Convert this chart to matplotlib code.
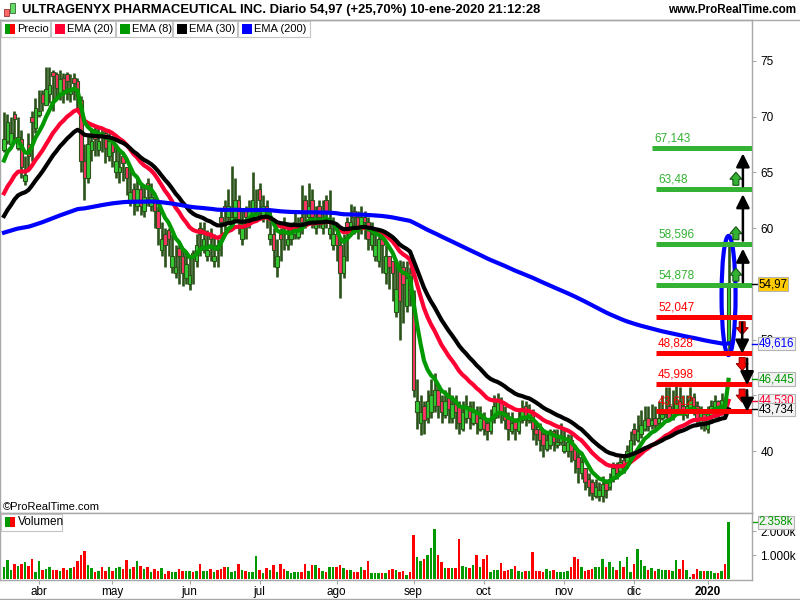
import numpy as np
import pandas as pd
import matplotlib
matplotlib.use("Agg")
import matplotlib.pyplot as plt
from matplotlib.patches import Rectangle, Ellipse, Polygon

plt.rcParams['font.family'] = ['Liberation Sans', 'DejaVu Sans']

# trading days shown (Mar 18 2019 .. Jan 10 2020)
holidays = ['2019-04-19', '2019-05-27', '2019-07-04', '2019-09-02',
            '2019-11-28', '2019-12-25', '2020-01-01']
dates = pd.bdate_range('2019-03-18', '2020-01-10')
dates = dates[~dates.isin(pd.to_datetime(holidays))]

opens = [67.0, 67.8, 67.5, 70.2, 67.2, 68.0, 64.2, 67.5, 70.0, 69.0,
         70.1, 72.0, 71.0, 72.0, 74.0, 73.8, 72.0, 73.5, 73.8, 72.0,
         73.5, 73.2, 71.5, 66.0, 64.5, 67.0, 68.5, 67.0, 68.5, 68.5,
         66.5, 67.8, 65.0, 65.0, 66.5, 65.5, 62.5, 63.5, 62.0, 63.5,
         61.5, 64.0, 62.0, 62.8, 61.5, 58.0, 59.5, 59.8, 56.5, 56.0,
         58.2, 57.5, 55.5, 55.0, 57.8, 57.0, 60.0, 58.0, 57.5, 59.5,
         57.0, 58.5, 61.0, 62.0, 61.0, 60.5, 61.0, 62.5, 59.0, 61.5,
         60.5, 61.0, 61.0, 63.5, 61.0, 62.0, 59.0, 59.5, 56.5, 59.5,
         60.5, 58.5, 59.0, 59.5, 59.2, 61.0, 62.5, 61.0, 62.5, 60.0,
         62.0, 60.0, 62.5, 59.5, 58.5, 59.5, 58.5, 56.0, 60.5, 60.0,
         61.5, 61.0, 60.0, 61.0, 60.5, 58.5, 57.5, 57.0, 59.0, 56.0,
         57.5, 57.0, 52.5, 56.5, 56.5, 53.0, 56.0, 54.0, 43.5, 42.5,
         44.0, 43.0, 43.5, 44.0, 45.5, 44.5, 43.2, 45.0, 43.0, 44.5,
         44.0, 42.0, 43.0, 44.0, 42.5, 43.5, 42.0, 43.0, 42.5, 41.8,
         43.0, 43.5, 44.5, 43.5, 43.0, 41.8, 42.8, 41.8, 42.8, 44.0,
         42.8, 43.5, 42.0, 42.0, 41.5, 40.2, 40.5, 41.8, 40.5, 40.8,
         40.0, 40.0, 41.0, 40.2, 39.5, 38.0, 38.5, 37.5, 37.2, 36.0,
         36.0, 36.0, 37.2, 36.8, 37.5, 38.8, 38.2, 39.2, 38.8, 39.8,
         42.0, 41.0, 41.5, 42.0, 43.0, 42.3, 43.0, 42.5, 43.0, 43.3,
         44.0, 43.0, 43.5, 44.5, 44.0, 43.2, 43.8, 44.8, 44.0, 42.5,
         43.5, 42.0, 43.2, 43.5, 44.5, 44.0, 44.5, 49.8]
highs = [70.4, 70.2, 70.0, 70.5, 70.0, 68.8, 66.5, 68.5, 70.5, 71.7,
         72.4, 72.4, 74.4, 74.4, 74.2, 74.0, 74.2, 73.9, 74.0, 73.8,
         73.9, 73.5, 71.8, 67.5, 68.5, 69.0, 69.2, 69.0, 69.0, 68.8,
         68.5, 68.0, 67.5, 67.0, 66.8, 65.5, 65.5, 64.0, 64.5, 64.0,
         63.8, 64.5, 64.0, 63.0, 62.0, 60.5, 60.0, 60.0, 59.5, 58.5,
         58.5, 58.0, 57.8, 57.5, 58.0, 59.5, 60.5, 60.5, 59.8, 60.0,
         59.5, 59.0, 61.5, 62.5, 63.5, 65.6, 64.5, 63.0, 61.5, 62.0,
         62.5, 65.0, 63.5, 64.0, 63.0, 62.5, 61.5, 60.0, 59.0, 60.0,
         61.0, 60.5, 60.5, 61.5, 61.0, 63.9, 63.0, 64.0, 63.5, 62.0,
         62.5, 62.5, 63.0, 63.4, 61.0, 60.0, 59.0, 59.5, 61.0, 62.2,
         62.0, 61.5, 62.0, 61.5, 61.0, 60.5, 60.0, 59.5, 59.5, 58.5,
         57.5, 57.0, 57.0, 57.1, 57.0, 57.0, 56.5, 54.4, 46.5, 45.0,
         44.5, 45.5, 46.5, 47.0, 46.0, 45.0, 45.5, 45.7, 45.0, 45.0,
         44.5, 44.5, 45.0, 44.5, 44.5, 44.0, 44.0, 43.5, 43.0, 43.8,
         45.0, 45.2, 44.8, 44.0, 43.5, 43.5, 43.0, 43.8, 44.6, 44.5,
         44.2, 43.8, 42.5, 42.5, 41.8, 41.8, 42.0, 42.0, 42.0, 42.5,
         42.0, 41.5, 41.5, 40.5, 40.0, 39.8, 38.5, 38.0, 37.5, 37.5,
         37.2, 37.8, 37.5, 38.0, 39.0, 39.0, 39.5, 39.5, 40.5, 41.8,
         42.5, 43.2, 43.7, 44.0, 44.0, 44.2, 44.0, 44.5, 45.0, 45.7,
         45.7, 45.5, 45.9, 45.7, 45.0, 45.0, 45.7, 45.2, 44.5, 44.0,
         43.8, 44.0, 44.6, 45.0, 44.6, 45.2, 44.8, 58.6]
lows = [66.8, 67.5, 67.2, 67.8, 67.0, 64.5, 63.9, 65.2, 66.0, 68.5,
        70.0, 70.5, 71.0, 71.2, 70.5, 71.5, 71.5, 71.2, 71.5, 71.3,
        71.5, 70.5, 65.0, 62.5, 64.0, 66.0, 66.5, 66.5, 66.8, 65.8,
        66.0, 65.5, 64.5, 64.0, 64.2, 63.0, 62.0, 61.2, 61.5, 61.2,
        61.0, 62.0, 61.5, 60.0, 58.5, 57.5, 56.5, 57.5, 56.0, 55.5,
        55.0, 54.8, 55.0, 54.4, 55.0, 56.5, 57.5, 57.8, 57.0, 57.0,
        56.5, 56.5, 57.5, 59.5, 60.5, 60.0, 60.5, 59.5, 58.5, 59.0,
        60.0, 60.5, 60.5, 61.0, 60.5, 60.0, 58.5, 56.5, 55.6, 57.0,
        58.0, 58.0, 58.5, 59.0, 59.0, 59.5, 60.0, 60.5, 60.0, 59.5,
        60.0, 59.5, 60.0, 59.0, 58.0, 57.0, 53.7, 55.5, 57.0, 59.5,
        59.5, 59.0, 59.5, 59.0, 58.0, 58.0, 57.0, 56.5, 56.0, 55.0,
        54.5, 53.5, 52.0, 50.0, 51.5, 52.5, 53.0, 44.8, 42.0, 41.4,
        41.5, 42.5, 43.0, 43.5, 43.0, 42.5, 43.0, 42.5, 42.5, 42.0,
        41.5, 41.8, 42.5, 42.0, 42.3, 41.5, 41.8, 41.4, 41.0, 41.5,
        42.5, 43.0, 42.5, 42.0, 41.0, 41.5, 41.0, 41.5, 42.5, 42.2,
        42.5, 41.0, 40.5, 40.0, 39.5, 40.0, 40.2, 40.0, 40.3, 40.5,
        39.8, 39.5, 39.0, 38.0, 37.1, 37.5, 36.5, 36.0, 35.6, 35.8,
        35.5, 35.4, 35.8, 36.5, 37.2, 37.5, 38.0, 38.0, 38.5, 39.5,
        40.5, 40.8, 41.2, 41.8, 41.8, 42.0, 42.0, 42.2, 42.8, 43.0,
        42.8, 42.8, 43.3, 43.2, 42.8, 43.0, 43.5, 43.2, 42.2, 42.0,
        41.8, 41.6, 42.5, 43.0, 42.8, 43.2, 43.2, 48.9]
closes = [68.0, 69.5, 68.5, 69.8, 68.2, 65.5, 64.8, 66.5, 69.5, 70.8,
          70.5, 71.2, 72.5, 72.8, 73.6, 72.6, 73.4, 72.4, 73.2, 72.5,
          73.0, 71.8, 66.0, 64.5, 67.5, 67.8, 68.0, 67.8, 68.2, 67.2,
          67.8, 66.8, 66.0, 65.5, 65.8, 64.5, 63.2, 62.5, 63.5, 62.0,
          62.8, 63.5, 62.8, 61.5, 60.0, 59.0, 58.5, 59.0, 57.5, 56.5,
          57.5, 56.0, 56.8, 55.8, 57.5, 58.5, 59.5, 59.0, 58.0, 59.0,
          57.5, 58.0, 60.5, 61.5, 62.0, 61.0, 62.5, 60.5, 60.0, 61.0,
          61.5, 62.5, 61.5, 62.5, 62.0, 61.5, 59.5, 58.0, 57.5, 59.0,
          60.0, 59.0, 59.5, 60.5, 59.8, 60.5, 61.5, 62.0, 61.0, 60.5,
          61.0, 60.5, 61.5, 60.0, 59.5, 58.5, 56.0, 57.5, 60.0, 60.5,
          61.0, 60.0, 61.0, 60.5, 59.0, 59.5, 58.5, 59.0, 58.5, 57.5,
          56.5, 56.0, 54.5, 53.5, 55.0, 55.5, 54.5, 45.5, 44.5, 43.5,
          42.8, 44.5, 45.0, 45.5, 44.0, 43.5, 44.5, 43.8, 44.2, 43.5,
          42.5, 43.5, 44.0, 43.0, 43.5, 42.5, 43.0, 42.0, 41.8, 43.0,
          44.0, 44.5, 43.5, 42.8, 42.0, 42.5, 42.0, 43.0, 43.8, 43.0,
          43.5, 42.0, 41.5, 41.0, 40.5, 41.0, 41.5, 40.8, 40.8, 41.2,
          40.5, 40.8, 40.0, 39.2, 38.5, 39.0, 37.2, 36.8, 36.2, 36.8,
          36.5, 37.0, 36.5, 37.5, 38.5, 38.0, 39.0, 38.8, 40.0, 41.0,
          41.5, 41.8, 42.3, 42.8, 42.2, 42.8, 42.3, 43.0, 43.3, 43.8,
          43.0, 43.8, 44.3, 43.8, 43.3, 44.0, 44.6, 44.0, 43.0, 43.5,
          42.8, 43.5, 44.0, 44.5, 44.0, 44.6, 43.73, 54.97]
# volume in thousands
volume_k = [0.5,
            0.79, 0.375, 0.625, 0.54, 0.625, 0.71, 0.54, 0.83, 0.3, 0.75,
            0.375, 0.42, 0.49, 0.375, 0.375, 0.33, 0.44, 0.375, 0.44, 0.49,
            0.75, 1.0, 1.17, 0.58, 0.44, 0.3, 0.33, 0.51, 0.33, 0.49,
            0.33, 0.44, 0.49, 0.4, 0.79, 0.4, 0.49, 0.75, 0.54, 0.4,
            0.49, 0.3, 0.4, 0.33, 0.44, 0.2, 0.33, 0.3, 0.3, 0.4,
            0.33, 0.33, 0.33, 0.3, 0.33, 0.62, 0.33, 0.33, 0.4, 0.3,
            0.375, 0.4, 0.49, 0.49, 0.3, 0.35, 0.62, 0.375, 0.33, 0.3,
            0.3, 0.96, 0.375, 0.26, 0.44, 0.375, 0.58, 0.3, 0.62, 0.4,
            0.33, 0.24, 0.3, 0.3, 0.3, 0.62, 0.33, 0.58, 0.58, 0.44,
            0.33, 0.3, 0.49, 0.51, 0.51, 0.58, 0.44, 0.375, 0.375, 0.3,
            0.3, 0.49, 0.375, 0.75, 0.26, 0.26, 0.24, 0.26, 0.24, 0.375,
            0.4, 0.375, 0.3, 0.33, 0.17, 0.3, 1.83, 0.92, 0.75, 0.85,
            1.0, 1.28, 2.07, 1.0, 0.71, 0.44, 0.44, 0.47, 0.44, 1.67,
            0.54, 0.51, 0.44, 0.58, 1.0, 0.51, 0.85, 1.0, 0.3, 0.375,
            0.375, 0.65, 0.33, 0.375, 0.42, 0.54, 0.33, 0.3, 0.33, 0.33,
            1.13, 0.33, 0.33, 0.3, 0.4, 0.33, 0.375, 0.3, 0.3,
            0.3, 0.33, 0.49, 0.9, 0.85, 0.49, 0.33, 0.375, 0.4, 0.49,
            0.49, 0.83, 0.49, 0.71, 0.49, 0.375, 0.75, 0.49, 0.9, 0.3,
            0.62, 1.25, 0.79, 0.54, 0.375, 0.44, 0.33, 0.4, 0.375, 0.375,
            0.375, 0.33, 0.79, 0.4, 0.79, 0.375, 0.1, 0.2, 0.4, 0.33,
            0.33, 0.35, 0.33, 0.24, 0.24, 0.35, 0.62, 2.358]

ema_seeds = {8: 65.5, 20: 62.6, 30: 60.6, 200: 59.5}

up_levels = [54.878, 58.596, 63.48, 67.143]
down_levels = [52.047, 48.828, 45.998, 43.612]
month_labels = ['abr', 'may', 'jun', 'jul', 'ago', 'sep', 'oct', 'nov', 'dic', '2020']
last_values = [54.97, 49.616, 46.445, 44.530, 43.734]
last_texts = ['54,97', '49,616', '46,445', '44,530', '43,734']
last_colors = ['black', '#0000ff', '#009900', '#ff0033', 'black']
vol_last = 2.358

assert len(opens) == len(highs) == len(lows) == len(closes) == len(volume_k) == len(dates), \
    (len(opens), len(highs), len(lows), len(closes), len(volume_k), len(dates))

DARK = '#2b5319'
UPC = '#33cc33'
DNC = '#ff3366'
GRID = '#a8a8a8'
LV_GREEN = '#33b233'
LV_RED = '#ff0000'


def ema(vals, period, seed):
    a = 2.0 / (period + 1)
    e = seed
    out = []
    for v in vals:
        e = e + a * (v - e)
        out.append(e)
    return np.array(out)


W, H = 800, 600
fig = plt.figure(figsize=(8, 6), dpi=100)


def fx(px):
    return px / W


def fy(py):
    return 1 - py / H


ax = fig.add_axes([0, fy(513), fx(752), (513 - 20) / H])
axv = fig.add_axes([0, fy(580), fx(752), (580 - 513) / H])

x = np.arange(len(closes))
o = np.array(opens)
h = np.array(highs)
l = np.array(lows)
c = np.array(closes)
up = c >= o

XMIN, XMAX = -1.14, 213.7
YMIN, YMAX = 34.44, 78.66
for a_ in (ax, axv):
    a_.set_xlim(XMIN, XMAX)
ax.set_ylim(YMIN, YMAX)
axv.set_ylim(-0.04, 2.75)
ux = (XMAX - XMIN) / 752.0
uy = (YMAX - YMIN) / 493.0

# candles
ax.vlines(x, l, h, color=DARK, lw=1.9, zorder=2)
ax.bar(x, np.maximum(np.abs(c - o), 0.05), bottom=np.minimum(o, c), width=0.9,
       color=np.where(up, UPC, DNC), edgecolor=DARK, linewidth=0.8, zorder=2.1)

# EMAs
ax.plot(x, ema(c, 20, ema_seeds[20]), color='#ff0033', lw=3, zorder=3)
ax.plot(x, ema(c, 8, ema_seeds[8]), color='#009900', lw=3, zorder=3)
ax.plot(x, ema(c, 30, ema_seeds[30]), color='black', lw=3, zorder=3)
ax.plot(x, ema(c, 200, ema_seeds[200]), color='#0000ff', lw=3, zorder=3)

# ellipse round the last candle
last = len(c) - 1
ax.add_patch(Ellipse((last, (h[last] + l[last]) / 2 + 0.2), width=14 * ux, height=119 * uy,
                     fill=False, ec='#0000ff', lw=3, zorder=4))

# level lines with labels
for i, lv in enumerate(up_levels):
    x0 = 185.1 if i == len(up_levels) - 1 else 186.3
    ax.hlines(lv, x0, XMAX, color=LV_GREEN, lw=3.6, zorder=5)
    ax.annotate(str(lv).replace('.', ','), xy=(x0, lv), xytext=(1.5, 2.5),
                textcoords='offset points', color=LV_GREEN, fontsize=8.5,
                ha='left', va='bottom', zorder=5)
for lv in down_levels:
    x0 = 186.3
    ax.hlines(lv, x0, XMAX, color=LV_RED, lw=3.6, zorder=5)
    ax.annotate(str(lv).replace('.', ','), xy=(x0, lv), xytext=(1.5, 2.5),
                textcoords='offset points', color=LV_RED, fontsize=8.5,
                ha='left', va='bottom', zorder=5)


def block_arrow(cx, base, direction, face, edge):
    pts = [(-3, 0), (3, 0), (3, 6), (6, 6), (0, 13), (-6, 6), (-3, 6)]
    poly = [(cx + dx * ux, base + direction * dy * uy) for dx, dy in pts]
    ax.add_patch(Polygon(poly, closed=True, fc=face, ec=edge, lw=0.8, zorder=6))


def black_arrow(xa, tail, tip):
    ax.annotate('', xy=(xa, tip), xytext=(xa, tail),
                arrowprops=dict(arrowstyle='-|>,head_length=0.5,head_width=0.25',
                                color='black', lw=1.8, mutation_scale=16,
                                shrinkA=0, shrinkB=0), zorder=7)


for k in range(3):
    block_arrow(209.1, up_levels[k] + 4 * uy, 1, '#33b233', '#145214')
    black_arrow(211.1, up_levels[k] + 3 * uy, up_levels[k + 1] - 5 * uy)
    block_arrow(210.9, down_levels[k] - 5 * uy, -1, '#ff0000', '#990000')
    xa = 210.9 if k == 0 else 212.3
    black_arrow(xa, down_levels[k] - 6 * uy, down_levels[k + 1] - 1 * uy)

# right price axis
ax.yaxis.tick_right()
yticks = list(range(40, 80, 5))
ax.set_yticks(yticks)
# 45 and 55 sit under the value boxes
ax.set_yticklabels(['' if t in (45, 55) else str(t) for t in yticks])
ax.tick_params(axis='y', labelsize=8.5, length=3, color=GRID, pad=3, direction='out')
ax.tick_params(axis='x', bottom=False, labelbottom=False)
for s in ax.spines.values():
    s.set_color(GRID)
    s.set_linewidth(1)
for s in axv.spines.values():
    s.set_color(GRID)
    s.set_linewidth(1)

yt = ax.get_yaxis_transform()
for val, txt, col in zip(last_values, last_texts, last_colors):
    fc = '#ffcc00' if txt == '54,97' else '#f2f2f2'
    ax.plot([1.0, 1.007], [val, val], transform=yt, color=col, lw=1, clip_on=False, zorder=8)
    ax.text(1.009, val, txt, transform=yt, color=col, fontsize=8.3, va='center', ha='left',
            zorder=9, clip_on=False,
            bbox=dict(boxstyle='square,pad=0.06', fc=fc, ec='#b4b4b4', lw=0.8))

# volume panel
vcol = np.where(up, '#009900', '#ff0000')
axv.bar(x, volume_k, width=0.65, color=vcol, zorder=2)
axv.yaxis.tick_right()
axv.set_yticks([1.0, 2.0])
axv.set_yticklabels(['1.000k', '2.000k'])
axv.tick_params(axis='y', labelsize=8.5, length=3, color=GRID, pad=3)
vt = axv.get_yaxis_transform()
axv.plot([1.0, 1.007], [vol_last, vol_last], transform=vt, color='#009900', lw=1, clip_on=False)
axv.text(1.009, vol_last, '2.358k', transform=vt, color='#009900', fontsize=8.3,
         va='center', ha='left', zorder=9, clip_on=False,
         bbox=dict(boxstyle='square,pad=0.06', fc='#f2f2f2', ec='#b4b4b4', lw=0.8))

# month ticks
first_days = []
for d_i, d in enumerate(dates):
    if d_i > 0 and d.month != dates[d_i - 1].month:
        first_days.append(d_i)
axv.set_xticks(first_days)
axv.set_xticklabels(month_labels)
axv.tick_params(axis='x', labelsize=8.5, length=3, color=GRID, pad=1.5)
axv.get_xticklabels()[-1].set_fontweight('bold')

# header
fig.add_artist(plt.Line2D([0, 1], [fy(20), fy(20)], color=GRID, lw=1))
fig.add_artist(plt.Line2D([0, 1], [fy(599), fy(599)], color=GRID, lw=1))
fig.add_artist(Rectangle((fx(4), fy(16)), fx(5), 7 / H, fc='#ff6666', ec='#993333', lw=0.6))
fig.add_artist(Rectangle((fx(10), fy(13)), fx(5), 10 / H, fc='#66dd66', ec='#336633', lw=0.6))
fig.text(fx(22), fy(10), 'ULTRAGENYX PHARMACEUTICAL INC. Diario 54,97 (+25,70%) 10-ene-2020 21:12:28',
         fontsize=9.4, fontweight='bold', va='center', ha='left')
fig.text(fx(796), fy(10), 'www.ProRealTime.com', fontsize=8.4, fontweight='bold',
         va='center', ha='right')

legend_items = [('Precio', None, 1, 50), ('EMA (20)', '#ff0033', 51, 115),
                ('EMA (8)', '#009900', 116, 172), ('EMA (30)', 'black', 173, 237),
                ('EMA (200)', '#0000ff', 238, 310)]
for name, col, x0, x1 in legend_items:
    fig.add_artist(Rectangle((fx(x0), fy(37)), fx(x1 - x0), 16 / H, fc='white', ec='#c4c4c4', lw=0.8))
    if col is None:
        fig.add_artist(Rectangle((fx(x0 + 4), fy(34)), fx(5), 10 / H, fc='#009900', ec='none'))
        fig.add_artist(Rectangle((fx(x0 + 9), fy(34)), fx(5), 10 / H, fc='#ff0000', ec='none'))
    else:
        fig.add_artist(Rectangle((fx(x0 + 4), fy(34)), fx(10), 10 / H, fc=col, ec='none'))
    fig.text(fx(x0 + 16), fy(29), name, fontsize=8, va='center', ha='left')

fig.text(fx(3), fy(507), '©ProRealTime.com', fontsize=8, va='center', ha='left')
fig.add_artist(Rectangle((fx(1), fy(531)), fx(61), 17 / H, fc='white', ec='#c4c4c4', lw=0.8))
fig.add_artist(Rectangle((fx(5), fy(527)), fx(5), 10 / H, fc='#009900', ec='none'))
fig.add_artist(Rectangle((fx(10), fy(527)), fx(5), 10 / H, fc='#ff0000', ec='none'))
fig.text(fx(18), fy(522), 'Volumen', fontsize=8.5, va='center', ha='left')

fig.savefig('out.png', dpi=100)
